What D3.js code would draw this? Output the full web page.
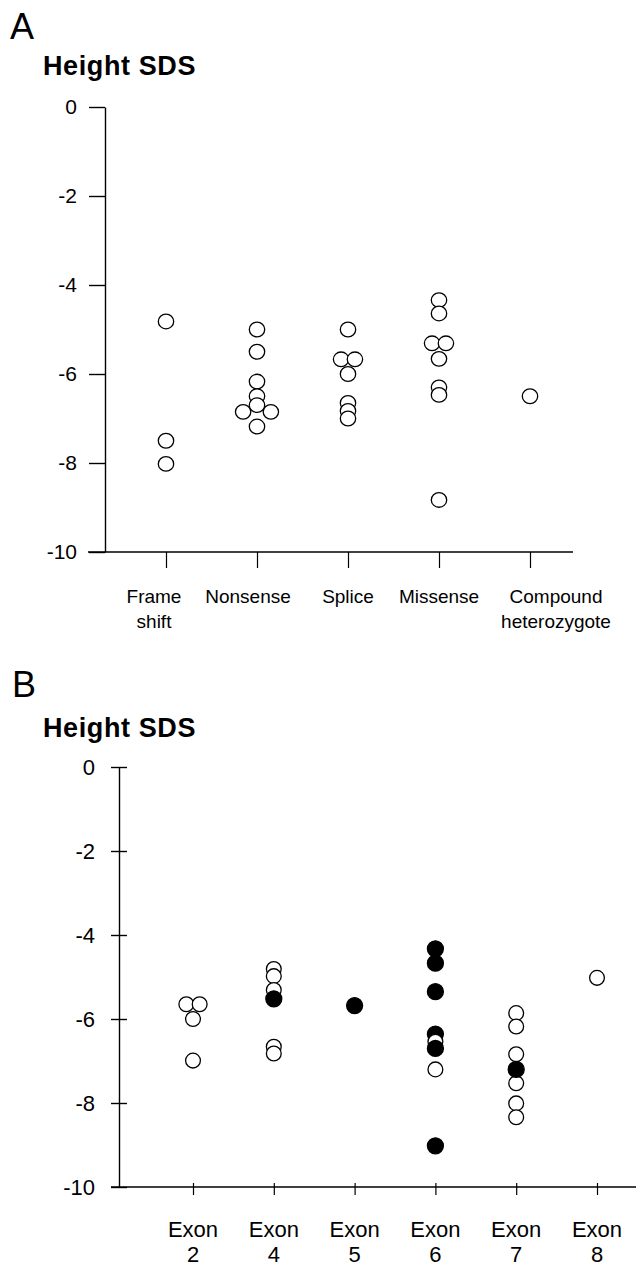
<!DOCTYPE html>
<html>
<head>
<meta charset="utf-8">
<script src="https://cdn.jsdelivr.net/npm/d3@7"></script>
<style>
  body { margin: 0; background: #fff; }
  svg { display: block; font-family: "Liberation Sans", Arial, Helvetica, sans-serif; }
</style>
</head>
<body>
<svg id="chart"></svg>
<script>
// Panel A: height SDS by mutation type
const mutationTypes = ["Frame shift", "Nonsense", "Splice", "Missense", "Compound heterozygote"];
const mutationLabels = [["Frame", "shift"], ["Nonsense"], ["Splice"], ["Missense"], ["Compound", "heterozygote"]];
const sdsTicks = [0, -2, -4, -6, -8, -10];

const typeOfPoint = [
  "Frame shift", "Frame shift", "Frame shift",
  "Nonsense", "Nonsense", "Nonsense", "Nonsense", "Nonsense", "Nonsense", "Nonsense", "Nonsense",
  "Splice", "Splice", "Splice", "Splice", "Splice", "Splice", "Splice",
  "Missense", "Missense", "Missense", "Missense", "Missense", "Missense", "Missense", "Missense",
  "Compound heterozygote",
];
const typeSds = [
  -4.82, -7.5, -8.02,
  -5.0, -5.5, -6.17, -6.5, -6.7, -6.85, -6.85, -7.18,
  -5.0, -5.67, -5.67, -6.0, -6.65, -6.83, -7.0,
  -4.34, -4.64, -5.31, -5.31, -5.66, -6.3, -6.47, -8.83,
  -6.5,
];
// side-by-side placement of tied points (negative left, 0 centre, positive right)
const typeSide = [
  0, 0, 0,
  0, 0, 0, 0, 0, -2, 2, 0,
  0, -1, 1, 0, 0, 0, 0,
  0, 0, -1, 1, 0, 0, 0, 0,
  0,
];

// Panel B: height SDS by exon
const exons = ["2", "4", "5", "6", "7", "8"];
const exonOfPoint = [
  "2", "2", "2", "2",
  "4", "4", "4", "4", "4", "4",
  "5",
  "6", "6", "6", "6", "6", "6", "6", "6",
  "7", "7", "7", "7", "7", "7", "7",
  "8",
];
const exonSds = [
  -5.65, -5.65, -6.0, -6.99,
  -4.81, -4.98, -5.31, -6.66, -6.82, -5.52,
  -5.68,
  -4.33, -4.67, -5.35, -6.36, -6.54, -6.7, -7.2, -9.02,
  -5.86, -6.18, -6.84, -7.53, -8.01, -8.34, -7.2,
  -5.02,
];
const exonFilled = [
  false, false, false, false,
  false, false, false, false, false, true,
  true,
  true, true, true, true, false, true, false, true,
  false, false, false, false, false, false, true,
  false,
];
const exonSide = [
  -1, 1, 0, 0,
  0, 0, 0, 0, 0, 0,
  0,
  0, 0, 0, 0, 0, 0, 0, 0,
  0, 0, 0, 0, 0, 0, 0,
  0,
];

const width = 636, height = 1269;
const svg = d3.select("#chart").attr("width", width).attr("height", height);
const tickText = (d) => String(d); // plain hyphen, as in the original

// ---------- Panel A ----------
const gA = svg.append("g");
const yA = d3.scaleLinear().domain([0, -10]).range([107, 552]);
const xA = d3.scalePoint().domain(mutationTypes).range([166, 530]);
const axisXA = 105;

gA.append("text").attr("x", 10).attr("y", 39).attr("font-size", 36).text("A");
gA.append("text").attr("x", 43).attr("y", 75).attr("font-size", 27)
  .attr("font-weight", "bold").attr("letter-spacing", 0.6).text("Height SDS");

gA.append("g")
  .attr("transform", `translate(${axisXA},0)`)
  .call(d3.axisLeft(yA).tickValues(sdsTicks).tickSize(16).tickSizeOuter(0).tickPadding(12).tickFormat(tickText))
  .call((g) => g.selectAll("text").attr("font-size", 21).attr("font-family", "Liberation Sans, Arial, sans-serif").attr("fill", "#000"))
  .call((g) => g.selectAll("line, path").attr("stroke", "#000").attr("stroke-width", 1.4));

gA.append("g")
  .attr("transform", `translate(0,${yA(-10)})`)
  .call(d3.axisBottom(xA).tickSize(16).tickSizeOuter(0).tickFormat(""))
  .call((g) => g.select(".domain").remove())
  .call((g) => g.selectAll("line").attr("stroke", "#000").attr("stroke-width", 1.2));

gA.append("line")
  .attr("x1", axisXA - 17).attr("x2", 573)
  .attr("y1", yA(-10)).attr("y2", yA(-10))
  .attr("stroke", "#000").attr("stroke-width", 1.4);

const labelNudgeA = { "Frame shift": -12, "Nonsense": -9, "Splice": 0, "Missense": 0, "Compound heterozygote": 26 };
mutationTypes.forEach((t, i) => {
  const txt = gA.append("text")
    .attr("text-anchor", "middle").attr("font-size", 19)
    .attr("transform", `translate(${xA(t) + labelNudgeA[t]},603)`);
  mutationLabels[i].forEach((line, j) => {
    txt.append("tspan").attr("x", 0).attr("y", j * 25).text(line);
  });
});

const rA = 7.3;
gA.append("g").selectAll("ellipse")
  .data(typeSds.map((v, i) => ({ type: typeOfPoint[i], sds: v, side: typeSide[i] })))
  .join("ellipse")
  .attr("cx", (d) => xA(d.type) + d.side * rA * 0.95)
  .attr("cy", (d) => yA(d.sds))
  .attr("rx", rA + 0.4)
  .attr("ry", rA)
  .attr("fill", "#fff")
  .attr("stroke", "#000")
  .attr("stroke-width", 1.3);

// ---------- Panel B ----------
const gB = svg.append("g");
const yB = d3.scaleLinear().domain([0, -10]).range([767, 1187]);
const xB = d3.scalePoint().domain(exons).range([193, 597]);
const axisXB = 119;

gB.append("text").attr("x", 12).attr("y", 697).attr("font-size", 36).text("B");
gB.append("text").attr("x", 43).attr("y", 737).attr("font-size", 27)
  .attr("font-weight", "bold").attr("letter-spacing", 0.6).text("Height SDS");

gB.append("g")
  .attr("transform", `translate(${axisXB},0)`)
  .call(d3.axisLeft(yB).tickValues(sdsTicks).tickSize(8).tickSizeOuter(0).tickPadding(16).tickFormat(tickText))
  .call((g) => g.selectAll(".tick line").attr("x1", 8))
  .call((g) => g.selectAll("text").attr("font-size", 22).attr("font-family", "Liberation Sans, Arial, sans-serif").attr("fill", "#000"))
  .call((g) => g.selectAll("line, path").attr("stroke", "#000").attr("stroke-width", 1.4));

gB.append("g")
  .attr("transform", `translate(0,${yB(-10)})`)
  .call(d3.axisBottom(xB).tickSize(8).tickSizeOuter(0).tickFormat(""))
  .call((g) => g.select(".domain").remove())
  .call((g) => g.selectAll(".tick line").attr("y1", -4).attr("stroke", "#000").attr("stroke-width", 1.2));

gB.append("line")
  .attr("x1", axisXB - 8).attr("x2", width)
  .attr("y1", yB(-10)).attr("y2", yB(-10))
  .attr("stroke", "#000").attr("stroke-width", 1.4);

exons.forEach((e) => {
  const txt = gB.append("text")
    .attr("text-anchor", "middle").attr("font-size", 22)
    .attr("transform", `translate(${xB(e)},1237)`);
  txt.append("tspan").attr("x", 0).attr("y", 0).text("Exon");
  txt.append("tspan").attr("x", 0).attr("y", 25).text(e);
});

const rB = 7.4;
gB.append("g").selectAll("circle")
  .data(exonSds.map((v, i) => ({ exon: exonOfPoint[i], sds: v, filled: exonFilled[i], side: exonSide[i] })))
  .join("circle")
  .attr("cx", (d) => xB(d.exon) + d.side * rB * 0.9)
  .attr("cy", (d) => yB(d.sds))
  .attr("r", (d) => (d.filled ? rB + 0.6 : rB))
  .attr("fill", (d) => (d.filled ? "#000" : "#fff"))
  .attr("stroke", "#000")
  .attr("stroke-width", 1.3);
</script>
</body>
</html>
